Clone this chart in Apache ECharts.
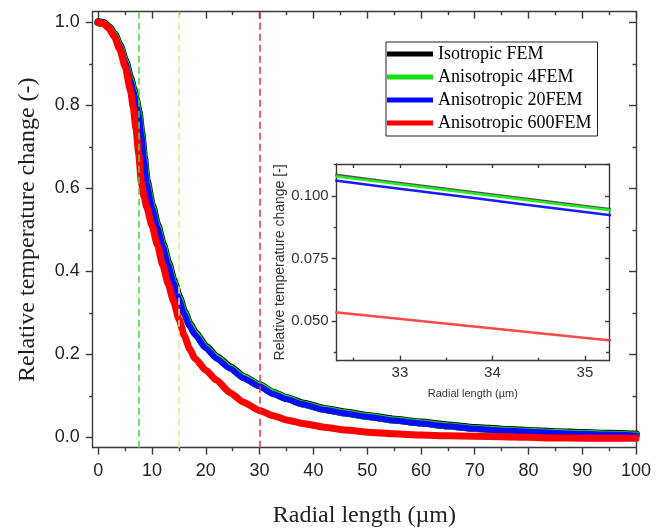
<!DOCTYPE html>
<html><head><meta charset="utf-8">
<script src="https://cdn.jsdelivr.net/npm/echarts@6/dist/echarts.min.js"></script>
<style>html,body{margin:0;padding:0;background:#fff}#c{width:656px;height:531px}</style>
</head><body><div id="c"></div>
<script>
// ---- data ----
const radialLength = [0,1,2,3,4,5,6,6.5,7,7.5,8,8.5,9,10,11,12,13,14,15,16,17,18,20,22,24.5,27,30,32.5,35,38,42,46,50,55,60,65,70,75,80,85,90,95,100];
const isotropicFEM = [1.000,0.998,0.988,0.971,0.944,0.908,0.864,0.840,0.814,0.784,0.734,0.674,0.618,0.559,0.511,0.466,0.421,0.378,0.339,0.302,0.273,0.252,0.219,0.194,0.170,0.146,0.126,0.108,0.095,0.082,0.069,0.060,0.052,0.043,0.036,0.029,0.023,0.019,0.016,0.013,0.011,0.009,0.007];
const aniso4FEM   = [1.000,0.997,0.987,0.970,0.942,0.906,0.861,0.837,0.811,0.781,0.731,0.671,0.615,0.556,0.508,0.463,0.418,0.375,0.336,0.300,0.271,0.250,0.217,0.192,0.168,0.145,0.125,0.1075,0.0945,0.081,0.068,0.059,0.051,0.042,0.035,0.028,0.022,0.018,0.015,0.012,0.010,0.008,0.006];
const aniso20FEM  = [1.000,0.997,0.986,0.968,0.940,0.903,0.858,0.834,0.808,0.778,0.728,0.668,0.612,0.553,0.505,0.460,0.415,0.372,0.333,0.297,0.268,0.247,0.215,0.190,0.166,0.143,0.123,0.105,0.0925,0.080,0.067,0.058,0.050,0.041,0.034,0.027,0.021,0.017,0.014,0.011,0.009,0.007,0.005];
const aniso600FEM = [1.000,0.997,0.985,0.965,0.935,0.893,0.835,0.795,0.745,0.685,0.615,0.580,0.555,0.510,0.463,0.415,0.370,0.328,0.285,0.245,0.213,0.190,0.162,0.138,0.108,0.085,0.065,0.0525,0.0425,0.034,0.025,0.018,0.013,0.009,0.006,0.004,0.003,0.002,0.0005,-0.001,-0.0015,-0.002,-0.002];

const insetRadial = [32.3,32.8,33.3,33.8,34.3,34.8,35.3];
const insetIso    = [0.1085,0.1061,0.1038,0.1015,0.0992,0.0969,0.0946];
const inset4FEM   = [0.1079,0.1056,0.1033,0.1010,0.0987,0.0964,0.0942];
const inset20FEM  = [0.1062,0.1038,0.1015,0.0992,0.0968,0.0945,0.0922];
const inset600FEM = [0.0535,0.0516,0.0497,0.0478,0.0459,0.0440,0.0421];

const boundaryLines = [7.5, 15, 30];
const seriesNames = ['Isotropic FEM','Anisotropic 4FEM','Anisotropic 20FEM','Anisotropic 600FEM'];

const mainXTicks = [0,10,20,30,40,50,60,70,80,90,100];
const mainXMinor = [5,15,25,35,45,55,65,75,85,95];
const mainYTicks = [0,0.2,0.4,0.6,0.8,1.0];
const mainYMinor = [0.1,0.3,0.5,0.7,0.9];
const insetXTicks = [33,34,35];
const insetXMinor = [32.5,33.5,34.5];
const insetYTicks = [0.05,0.075,0.1];
const insetYMinor = [0.0375,0.0625,0.0875,0.1125];

// ---- styling ----
const SANS = "'Liberation Sans', Arial, sans-serif";
const SERIF = "'Liberation Serif', 'Times New Roman', serif";
const AX = '#3a3a3a';
const mainX = {min:-1.04, max:100};
const mainY = {min:-0.0245, max:1.0255};
const insX = {min:32.316, max:35.26};
const insY = {min:0.0341, max:0.1128};

function ax(grid, pos, rng, ticks, len, inside, showLine, extra) {
  return Object.assign({
    type:'value', gridIndex:grid, position:pos, min:rng.min, max:rng.max,
    splitLine:{show:false},
    axisLine:{show:showLine, onZero:false, lineStyle:{color:AX, width:1.4}},
    axisTick:{show:true, customValues:ticks, length:len, inside:inside, lineStyle:{color:AX, width:1.4}},
    axisLabel:{show:false}
  }, extra || {});
}

const xAxis = [
  ax(0,'bottom',mainX,mainXTicks,7,false,true,{
    axisLabel:{show:true, customValues:mainXTicks, fontFamily:SANS, fontSize:18, color:'#222', margin:14},
    name:'Radial length (\u00b5m)', nameLocation:'middle', nameGap:56,
    nameTextStyle:{fontFamily:SERIF, fontSize:24, color:'#222'}
  }),
  ax(0,'bottom',mainX,mainXMinor,3.5,false,false),
  ax(0,'top',mainX,mainXTicks,7,true,true),
  ax(0,'top',mainX,mainXMinor,3.5,true,false),
  ax(1,'bottom',insX,insetXTicks,5,true,true,{
    axisLabel:{show:true, customValues:insetXTicks, fontFamily:SANS, fontSize:15, color:'#333', margin:5},
    name:'Radial length (\u00b5m)', nameLocation:'middle', nameGap:28,
    nameTextStyle:{fontFamily:SANS, fontSize:11, color:'#333'}
  }),
  ax(1,'bottom',insX,insetXMinor,3,true,false),
  ax(1,'top',insX,insetXTicks,4,true,true),
  ax(1,'top',insX,insetXMinor,4,true,false)
];
const yAxis = [
  ax(0,'left',mainY,mainYTicks,7,false,true,{
    axisLabel:{show:true, customValues:mainYTicks, fontFamily:SANS, fontSize:18, color:'#222', margin:13,
      formatter:v=>v.toFixed(1)},
    name:'Relative temperature change (-)', nameLocation:'middle', nameGap:53,
    nameTextStyle:{fontFamily:SERIF, fontSize:24, color:'#222'}
  }),
  ax(0,'left',mainY,mainYMinor,3.5,false,false),
  ax(0,'right',mainY,mainYTicks,7,true,true),
  ax(0,'right',mainY,mainYMinor,3.5,true,false),
  ax(1,'left',insY,insetYTicks,5,false,true,{
    axisLabel:{show:true, customValues:insetYTicks, fontFamily:SANS, fontSize:15, color:'#333', margin:8,
      formatter:v=>v.toFixed(3)},
    name:'Relative temperature change [-]', nameLocation:'middle', nameGap:50,
    nameTextStyle:{fontFamily:SANS, fontSize:14, color:'#333'}
  }),
  ax(1,'left',insY,insetYMinor,3,false,false),
  ax(1,'right',insY,insetYTicks,4,true,true),
  ax(1,'right',insY,insetYMinor,3,true,false)
];

function pairs(xs, ys){ return xs.map((x,i)=>[x, ys[i]]); }
function mainLine(name, ys, color, width, extra){
  return Object.assign({
    name, type:'line', xAxisIndex:0, yAxisIndex:0, data:pairs(radialLength, ys),
    symbol:'none', showSymbol:false, smooth:0.2, smoothMonotone:'x', silent:true,
    color, lineStyle:{color, width, cap:'round', join:'round'}
  }, extra || {});
}
function insetLine(name, ys, color){
  return {
    name, type:'line', xAxisIndex:4, yAxisIndex:4, data:pairs(insetRadial, ys),
    symbol:'none', showSymbol:false, silent:true, color,
    lineStyle:{color, width:2.4}
  };
}
const dashColors = ['#3ddc3d','#e6e38a','#e8323c'];

const option = {
  animation:false,
  backgroundColor:'#fff',
  grid:[
    {left:92.7, top:11.7, width:543.3, height:436, containLabel:false, outerBoundsMode:'none'},
    {left:336.7, top:164, width:272.3, height:196.7, containLabel:false, outerBoundsMode:'none'}
  ],
  xAxis, yAxis,
  legend:{
    data:seriesNames, orient:'vertical', left:386, top:42,
    itemWidth:46, itemHeight:5, itemGap:3, icon:'rect',
    padding:[2,6,3,1], borderColor:'#222', borderWidth:1, backgroundColor:'#fff',
    textStyle:{fontFamily:SERIF, fontSize:18, color:'#000', lineHeight:20},
    selectedMode:false
  },
  series:[
    mainLine(seriesNames[0], isotropicFEM, '#000000', 8),
    mainLine(seriesNames[1], aniso4FEM, '#14e014', 7),
    mainLine(seriesNames[2], aniso20FEM, '#0a0aff', 6),
    mainLine(seriesNames[3], aniso600FEM, '#ff0000', 7, {
      markLine:{
        silent:true, symbol:['none','none'], label:{show:false}, animation:false,
        lineStyle:{type:[7,4], width:1.5},
        emphasis:{disabled:true},
        data:boundaryLines.map((v,i)=>({xAxis:v, lineStyle:{color:dashColors[i], type:[7,4], width:1.5}}))
      }
    }),
    insetLine('inset iso', insetIso, '#555555'),
    insetLine('inset 4', inset4FEM, '#22ee22'),
    insetLine('inset 20', inset20FEM, '#1a1aff'),
    insetLine('inset 600', inset600FEM, '#ff4a4a')
  ]
};
const chart = echarts.init(document.getElementById('c'), null, {renderer:'canvas'});
chart.setOption(option);
</script>
</body></html>
